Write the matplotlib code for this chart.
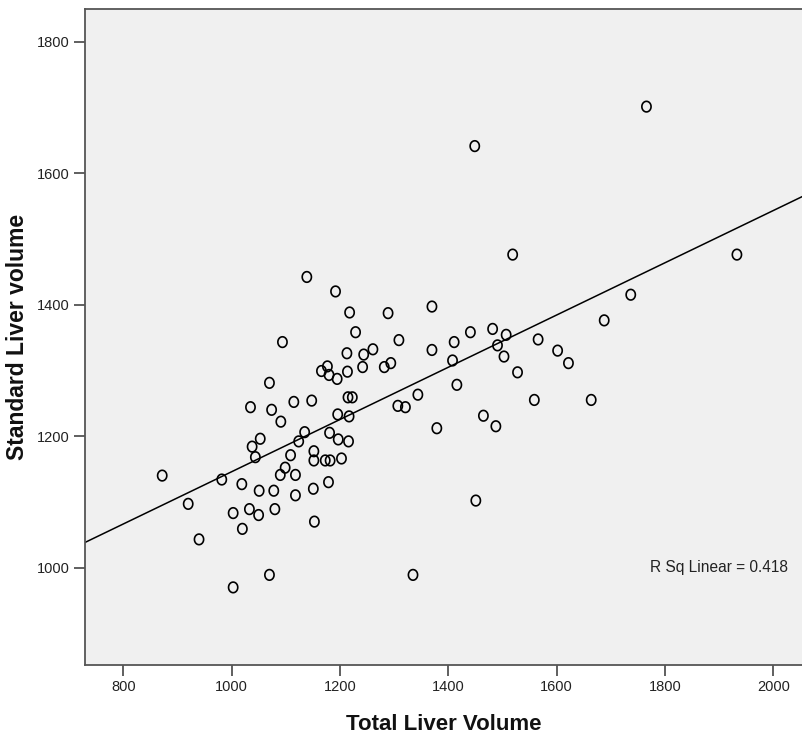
import numpy as np
import matplotlib.pyplot as plt
from matplotlib.path import Path

# Liver volumes
total_volume = [
    1766, 1449, 1519, 1933, 1139, 1192, 1737, 1370, 1218, 1289,
    1688, 1482, 1441, 1229, 1507, 1566, 1309, 1094, 1411, 1491,
    1261, 1370, 1602, 1213, 1244, 1503, 1408, 1622, 1177, 1242,
    1282, 1294, 1166, 1180, 1214, 1195, 1528, 1070, 1416, 1344,
    1559, 1664, 1115, 1148, 1215, 1223, 1035, 1074, 1307, 1321,
    1196, 1217, 1465, 1091, 1488, 1379, 1135, 1181, 1053, 1124,
    1197, 1216, 1038, 1152, 1109, 1044, 1203, 1152, 1173, 1182,
    1099, 1090, 1118, 872, 982, 1179, 1019, 1151, 1051, 1078,
    1118, 1451, 920, 1033, 1080, 1003, 1050, 1153, 1020, 940,
    1070, 1335, 1003,
]
standard_volume = [
    1701, 1641, 1476, 1476, 1442, 1420, 1415, 1397, 1388, 1387,
    1376, 1363, 1358, 1358, 1354, 1347, 1346, 1343, 1343, 1338,
    1332, 1331, 1330, 1326, 1324, 1321, 1315, 1311, 1306, 1305,
    1305, 1311, 1299, 1293, 1298, 1287, 1297, 1281, 1278, 1263,
    1255, 1255, 1252, 1254, 1259, 1259, 1244, 1240, 1246, 1244,
    1233, 1230, 1231, 1222, 1215, 1212, 1206, 1205, 1196, 1192,
    1195, 1192, 1184, 1177, 1171, 1168, 1166, 1163, 1163, 1163,
    1152, 1141, 1141, 1140, 1134, 1130, 1127, 1120, 1117, 1117,
    1110, 1102, 1097, 1089, 1089, 1083, 1080, 1070, 1059, 1043,
    989, 989, 970,
]
r_sq_label = "R Sq Linear = 0.418"

x_ticks = [800, 1000, 1200, 1400, 1600, 1800, 2000]
y_ticks = [1000, 1200, 1400, 1600, 1800]

x = np.array(total_volume)
y = np.array(standard_volume)
slope, intercept = np.polyfit(x, y, 1)

# the original image is a bit squeezed sideways, so the circles are slightly oval
t = np.linspace(0, 2 * np.pi, 60)
oval = Path(np.column_stack([0.87 * np.cos(t), np.sin(t)]), closed=True)

plt.rcParams["font.family"] = ["Liberation Sans", "DejaVu Sans"]

fig = plt.figure(figsize=(8.03, 7.37), dpi=100)
ax = fig.add_axes([0.1062, 0.0977, 0.8938, 0.8897])
ax.set_facecolor("#f0f0f0")

ax.scatter(x, y, s=58, marker=oval, facecolors="none", edgecolors="black",
           linewidths=1.2, zorder=3)

xlim = (730, 2055)
ax.set_xlim(xlim)
ax.set_ylim(852, 1849)
xs = np.array(xlim)
ax.plot(xs, slope * xs + intercept, color="black", linewidth=1.1, zorder=2)

ax.set_xticks(x_ticks)
ax.set_yticks(y_ticks)
ax.tick_params(direction="out", length=8, width=1.2, color="#444444",
               labelsize=10.5, labelcolor="#222222", pad=3)

for side in ["left", "bottom", "top"]:
    ax.spines[side].set_color("#555555")
    ax.spines[side].set_linewidth(1.3)
ax.spines["right"].set_visible(False)

ax.set_xlabel("Total Liver Volume", fontsize=16, fontweight="bold",
              color="#111111", labelpad=14)
ax.set_ylabel("Standard Liver volume", fontsize=16.5, fontweight="bold",
              color="#111111", labelpad=6)

ax.text(0.979, 0.148, r_sq_label, transform=ax.transAxes, ha="right", va="center",
        fontsize=11.2, color="#222222")

plt.savefig("out.png", dpi=100)
